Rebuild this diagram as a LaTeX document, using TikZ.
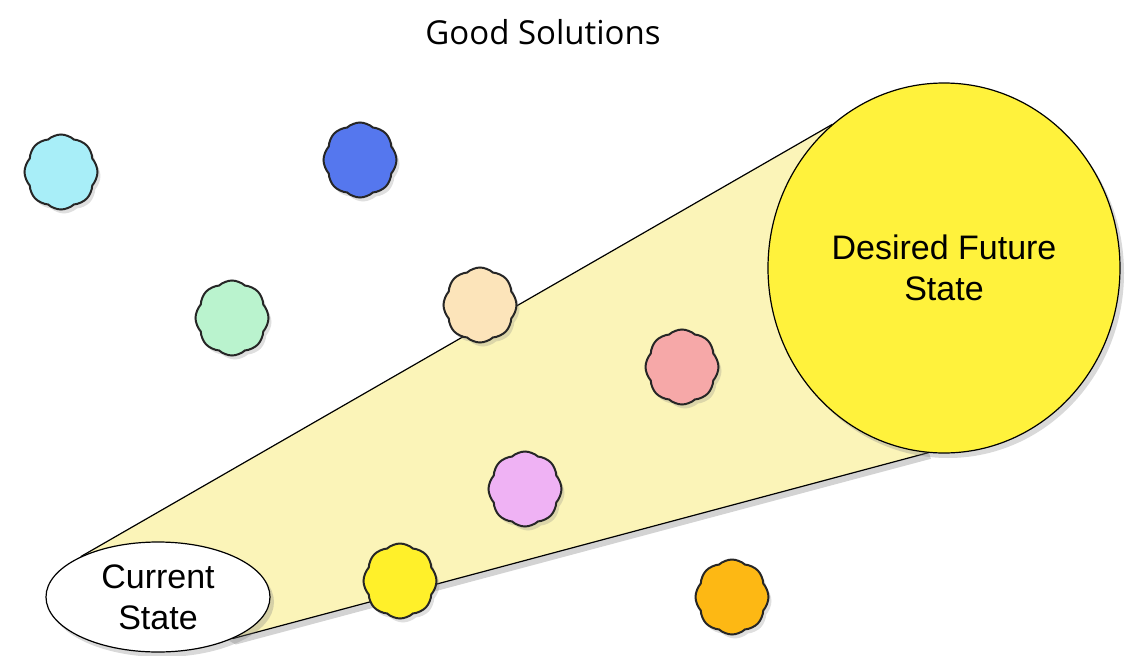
\documentclass[tikz,border=0pt]{standalone}
\usepackage{fontspec}
\setmainfont{Liberation Sans}
\newfontfamily\titlefont{Open Sans}
\usetikzlibrary{shapes.geometric,shapes.symbols,shadows,backgrounds}

\definecolor{conefill}{HTML}{FBF4B8}
\definecolor{goalfill}{HTML}{FFF23C}
\definecolor{puffcyan}{HTML}{A8EEF8}
\definecolor{puffblue}{HTML}{5577EE}
\definecolor{puffgreen}{HTML}{BAF3CE}
\definecolor{puffpeach}{HTML}{FCE4BA}
\definecolor{puffpink}{HTML}{F6A8A8}
\definecolor{pufflilac}{HTML}{EFB2F4}
\definecolor{puffyellow}{HTML}{FFF02A}
\definecolor{pufforange}{HTML}{FDB814}

\begin{document}
\begin{tikzpicture}[x=1pt, y=-1pt,
  state/.style={ellipse, draw, line width=1.2pt, inner sep=0pt, align=center,
    font=\fontsize{34}{41}\selectfont,
    drop shadow={shadow xshift=4pt, shadow yshift=-5pt, opacity=.3}},
  puff/.style={cloud, cloud puffs=8, aspect=1, cloud puff arc=85,
    draw=black!85, line width=2pt, minimum width=73pt, minimum height=75pt,
    inner sep=0pt, drop shadow={shadow xshift=3pt, shadow yshift=-4pt, opacity=.25}}]
  \useasboundingbox (0,0) rectangle (1128,656);

  % Title
  \node[font=\titlefont\fontsize{33}{40}\selectfont] (title) at (543,32) {Good Solutions};

  % Current and desired states
  \node[state, fill=white, minimum width=224pt, minimum height=110pt] (current) at (158,597) {Current\\State};
  \node[state, fill=goalfill, minimum width=352pt, minimum height=370pt] (future) at (944,268) {Desired Future\\State};

  % Cone between the two states
  \begin{scope}[on background layer]
    \draw[line width=1.2pt, fill=conefill,
      drop shadow={shadow xshift=3pt, shadow yshift=-6pt, opacity=.35}]
      (current.152) -- (future.128) -- (future.-95) -- (current.-29) -- cycle;
  \end{scope}

  % Candidate solutions
  \foreach \name/\col/\x/\y in {cyan/puffcyan/61/172, blue/puffblue/360/160,
      green/puffgreen/232/318, peach/puffpeach/480/305, pink/puffpink/682/367,
      lilac/pufflilac/525/489, yellow/puffyellow/400/581, orange/pufforange/732/597} {
    \node[puff, fill=\col] (\name) at (\x,\y) {};
  }
\end{tikzpicture}
\end{document}
